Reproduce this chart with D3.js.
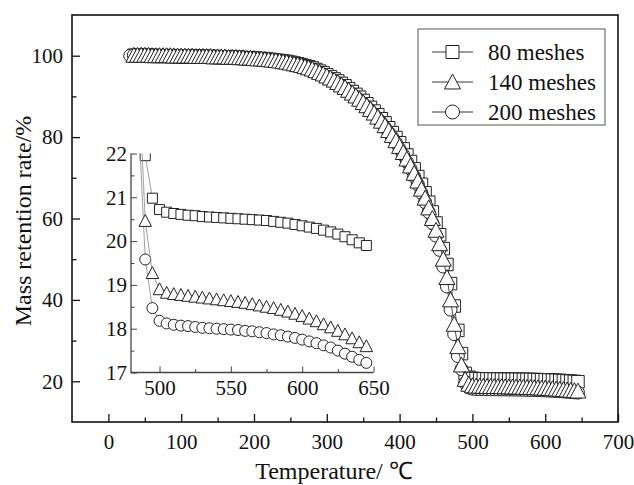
<!DOCTYPE html>
<html>
<head>
<meta charset="utf-8">
<script src="https://cdn.jsdelivr.net/npm/d3@7"></script>
<style>
  body { margin: 0; background: #fff; }
  svg { display: block; font-family: "Liberation Serif", "Times New Roman", serif; }
</style>
</head>
<body>
<svg id="chart" width="634" height="485"></svg>
<script>
// temperature (°C), one reading every 5 degrees
const temps = [
  30, 35, 40, 45, 50, 55, 60, 65, 70, 75,
  80, 85, 90, 95, 100, 105, 110, 115, 120, 125,
  130, 135, 140, 145, 150, 155, 160, 165, 170, 175,
  180, 185, 190, 195, 200, 205, 210, 215, 220, 225,
  230, 235, 240, 245, 250, 255, 260, 265, 270, 275,
  280, 285, 290, 295, 300, 305, 310, 315, 320, 325,
  330, 335, 340, 345, 350, 355, 360, 365, 370, 375,
  380, 385, 390, 395, 400, 405, 410, 415, 420, 425,
  430, 435, 440, 445, 450, 455, 460, 465, 470, 475,
  480, 485, 490, 495, 500, 505, 510, 515, 520, 525,
  530, 535, 540, 545, 550, 555, 560, 565, 570, 575,
  580, 585, 590, 595, 600, 605, 610, 615, 620, 625,
  630, 635, 640, 645
]

// mass retention rate (%)
const mesh80 = [
  null, 100.1, 100.1, 100.1, 100.1, 100.1, 100.1, 100.0, 100.0, 100.0,
  100.0, 100.0, 100.0, 99.9, 99.9, 99.9, 99.9, 99.9, 99.9, 99.8,
  99.8, 99.8, 99.8, 99.8, 99.7, 99.7, 99.7, 99.7, 99.6, 99.6,
  99.6, 99.5, 99.5, 99.4, 99.4, 99.3, 99.3, 99.2, 99.1, 99.0,
  98.9, 98.8, 98.7, 98.6, 98.4, 98.2, 98.0, 97.8, 97.5, 97.3,
  97.0, 96.6, 96.2, 95.8, 95.3, 94.8, 94.3, 93.8, 93.2, 92.6,
  91.9, 91.2, 90.5, 89.8, 89.0, 88.2, 87.3, 86.4, 85.5, 84.5,
  83.5, 82.3, 81.1, 79.9, 78.6, 77.1, 75.6, 74.0, 72.2, 70.3,
  68.4, 66.3, 64.0, 61.6, 58.9, 56.0, 52.6, 48.7, 44.0, 38.5,
  32.5, 26.8, 21.95, 20.98, 20.72, 20.66, 20.63, 20.61, 20.59, 20.58,
  20.56, 20.55, 20.54, 20.53, 20.52, 20.51, 20.50, 20.49, 20.48, 20.47,
  20.45, 20.43, 20.41, 20.38, 20.35, 20.32, 20.29, 20.25, 20.21, 20.16,
  20.10, 20.03, 19.96, 19.90
]

const mesh140 = [
  null, 100.1, 100.1, 100.1, 100.1, 100.1, 100.0, 100.0, 100.0, 100.0,
  100.0, 100.0, 99.9, 99.9, 99.9, 99.9, 99.9, 99.9, 99.8, 99.8,
  99.8, 99.8, 99.8, 99.7, 99.7, 99.7, 99.7, 99.6, 99.6, 99.6,
  99.5, 99.5, 99.4, 99.4, 99.3, 99.2, 99.2, 99.1, 99.0, 98.9,
  98.8, 98.7, 98.5, 98.4, 98.2, 98.0, 97.8, 97.6, 97.3, 97.0,
  96.7, 96.3, 95.9, 95.5, 95.0, 94.5, 94.0, 93.4, 92.8, 92.2,
  91.5, 90.8, 90.1, 89.3, 88.5, 87.7, 86.8, 85.9, 84.9, 83.9,
  82.8, 81.6, 80.4, 79.1, 77.7, 76.2, 74.6, 72.9, 71.1, 69.2,
  67.2, 65.0, 62.6, 60.0, 57.1, 53.8, 50.0, 45.5, 40.0, 34.0,
  28.5, 24.0, 20.46, 19.27, 18.90, 18.82, 18.79, 18.77, 18.75, 18.73,
  18.71, 18.69, 18.67, 18.65, 18.63, 18.61, 18.59, 18.56, 18.53, 18.50,
  18.47, 18.43, 18.39, 18.34, 18.29, 18.23, 18.17, 18.10, 18.03, 17.95,
  17.87, 17.78, 17.69, 17.60
]

const mesh200 = [
  100.0, 100.1, 100.1, 100.1, 100.1, 100.0, 100.0, 100.0, 100.0, 100.0,
  100.0, 99.9, 99.9, 99.9, 99.9, 99.9, 99.9, 99.8, 99.8, 99.8,
  99.8, 99.8, 99.7, 99.7, 99.7, 99.7, 99.6, 99.6, 99.6, 99.5,
  99.5, 99.4, 99.4, 99.3, 99.2, 99.2, 99.1, 99.0, 98.9, 98.8,
  98.7, 98.6, 98.4, 98.3, 98.1, 97.9, 97.7, 97.4, 97.2, 96.9,
  96.5, 96.1, 95.7, 95.3, 94.8, 94.3, 93.7, 93.2, 92.5, 91.9,
  91.2, 90.5, 89.8, 89.0, 88.2, 87.3, 86.4, 85.5, 84.5, 83.5,
  82.3, 81.1, 79.9, 78.6, 77.1, 75.6, 73.9, 72.2, 70.3, 68.4,
  66.3, 64.0, 61.6, 58.9, 55.8, 52.3, 48.2, 43.3, 37.6, 31.6,
  26.2, 23.0, 19.58, 18.47, 18.18, 18.12, 18.09, 18.07, 18.06, 18.04,
  18.02, 18.01, 18.00, 17.99, 17.98, 17.97, 17.95, 17.94, 17.92, 17.90,
  17.87, 17.85, 17.82, 17.79, 17.75, 17.71, 17.67, 17.62, 17.57, 17.50,
  17.43, 17.36, 17.29, 17.22
]

const seriesNames = ["80 meshes", "140 meshes", "200 meshes"]
const seriesShapes = ["square", "triangle", "circle"]

const xTicks = [0, 100, 200, 300, 400, 500, 600, 700]
const xMinor = [50, 150, 250, 350, 450, 550, 650]
const yTicks = [20, 40, 60, 80, 100]
const yMinor = [30, 50, 70, 90]
const insetXTicks = [500, 550, 600, 650]
const insetXMinor = [525, 575, 625]
const insetYTicks = [17, 18, 19, 20, 21, 22]
const insetYMinor = [17.5, 18.5, 19.5, 20.5, 21.5]

const W = 634, H = 485
const plot = { left: 72, right: 618, top: 15, bottom: 422 }
const inset = { left: 131, right: 373.5, top: 153.5, bottom: 372.5 }

const svg = d3.select("#chart")
svg.append("rect").attr("width", W).attr("height", H).attr("fill", "#fff")

const x = d3.scaleLinear().domain([-50, 700]).range([plot.left, plot.right])
const y = d3.scaleLinear().domain([10, 110]).range([plot.bottom, plot.top])
const xi = d3.scaleLinear().domain([480, 650]).range([inset.left, inset.right])
const yi = d3.scaleLinear().domain([17, 22]).range([inset.bottom, inset.top])

// build row objects per series
const series = seriesNames.map((name, k) => {
  let vals = [mesh80, mesh140, mesh200][k]
  return {
    name: name,
    shape: seriesShapes[k],
    points: temps.map((t, i) => ({ t: t, v: vals[i] })).filter(d => d.v != null)
  }
})

function markerPath(shape, s) {
  let h = s / 2
  if (shape == "square") return `M${-h},${-h}h${s}v${s}h${-s}Z`
  if (shape == "triangle") {
    let th = s * 0.87
    return `M0,${-th / 2 - 1}L${h},${th / 2}L${-h},${th / 2}Z`
  }
  return `M${h},0A${h},${h} 0 1,1 ${-h},0A${h},${h} 0 1,1 ${h},0Z`
}

const defs = svg.append("defs")
defs.append("clipPath").attr("id", "clipMain")
  .append("rect")
  .attr("x", plot.left).attr("y", plot.top)
  .attr("width", plot.right - plot.left).attr("height", plot.bottom - plot.top)
defs.append("clipPath").attr("id", "clipInset")
  .append("rect")
  .attr("x", inset.left).attr("y", inset.top)
  .attr("width", inset.right - inset.left + 8).attr("height", inset.bottom - inset.top)

// draw order: squares, circles, triangles on top
const drawOrder = [0, 2, 1]

function drawSeries(g, xs, ys, sizes, lineColour, lineWidth, filterFn) {
  drawOrder.forEach(k => {
    let s = series[k]
    let pts = s.points.filter(filterFn)
    let line = d3.line().x(d => xs(d.t)).y(d => ys(d.v))
    g.append("path")
      .datum(pts)
      .attr("d", line)
      .attr("fill", "none")
      .attr("stroke", lineColour)
      .attr("stroke-width", lineWidth)
    g.selectAll(null)
      .data(pts)
      .join("path")
      .attr("transform", d => `translate(${xs(d.t)},${ys(d.v)})`)
      .attr("d", markerPath(s.shape, sizes[s.shape]))
      .attr("fill", "#fff")
      .attr("stroke", "#222")
      .attr("stroke-width", 1)
  })
}

// main curves
const gMain = svg.append("g").attr("clip-path", "url(#clipMain)")
drawSeries(gMain, x, y, { square: 12.5, triangle: 16, circle: 13 }, "#222", 0.8, d => true)

// inset curves
const gInset = svg.append("g").attr("clip-path", "url(#clipInset)")
drawSeries(gInset, xi, yi, { square: 10, triangle: 12.5, circle: 11 }, "#888", 0.8, d => d.t >= 480)

// axes helpers: ticks point inward
function styleAxis(g, colour, width, fontSize) {
  g.select(".domain").remove()
  g.selectAll(".tick line").attr("stroke", colour).attr("stroke-width", width)
  g.selectAll(".tick text")
    .attr("fill", "#111")
    .style("font-size", `${fontSize}px`)
    .style("font-family", "'Liberation Serif', 'Times New Roman', serif")
}

// main x axis
let ax = svg.append("g").attr("transform", `translate(0,${plot.bottom})`)
  .call(d3.axisBottom(x).tickValues(xTicks).tickSize(-8).tickPadding(12).tickFormat(d3.format("d")))
styleAxis(ax, "#111", 1.3, 21)
ax = svg.append("g").attr("transform", `translate(0,${plot.bottom})`)
  .call(d3.axisBottom(x).tickValues(xMinor).tickSize(-4.5).tickFormat(""))
styleAxis(ax, "#111", 1.3, 21)

// main y axis
ax = svg.append("g").attr("transform", `translate(${plot.left},0)`)
  .call(d3.axisLeft(y).tickValues(yTicks).tickSize(-8).tickPadding(9).tickFormat(d3.format("d")))
styleAxis(ax, "#111", 1.3, 21)
ax = svg.append("g").attr("transform", `translate(${plot.left},0)`)
  .call(d3.axisLeft(y).tickValues(yMinor).tickSize(-4.5).tickFormat(""))
styleAxis(ax, "#111", 1.3, 21)

// frame
svg.append("rect")
  .attr("x", plot.left).attr("y", plot.top)
  .attr("width", plot.right - plot.left).attr("height", plot.bottom - plot.top)
  .attr("fill", "none").attr("stroke", "#111").attr("stroke-width", 1.6)

// inset axes
ax = svg.append("g").attr("transform", `translate(0,${inset.bottom})`)
  .call(d3.axisBottom(xi).tickValues(insetXTicks).tickSize(-6).tickPadding(8).tickFormat(d3.format("d")))
styleAxis(ax, "#444", 1, 21)
ax = svg.append("g").attr("transform", `translate(0,${inset.bottom})`)
  .call(d3.axisBottom(xi).tickValues(insetXMinor).tickSize(-3.5).tickFormat(""))
styleAxis(ax, "#444", 1, 21)
ax = svg.append("g").attr("transform", `translate(${inset.left},0)`)
  .call(d3.axisLeft(yi).tickValues(insetYTicks).tickSize(-6).tickPadding(4).tickFormat(d3.format("d")))
styleAxis(ax, "#444", 1, 21)
ax = svg.append("g").attr("transform", `translate(${inset.left},0)`)
  .call(d3.axisLeft(yi).tickValues(insetYMinor).tickSize(-3.5).tickFormat(""))
styleAxis(ax, "#444", 1, 21)
svg.append("path")
  .attr("d", `M${inset.left},${inset.top}V${inset.bottom}H${inset.right}`)
  .attr("fill", "none").attr("stroke", "#444").attr("stroke-width", 1.3)

// axis titles
svg.append("text")
  .attr("x", 334).attr("y", 479)
  .attr("text-anchor", "middle")
  .style("font-size", "24px")
  .attr("fill", "#111")
  .text("Temperature/ ℃")

svg.append("text")
  .attr("transform", "translate(31,221) rotate(-90)")
  .attr("text-anchor", "middle")
  .style("font-size", "24px")
  .attr("fill", "#111")
  .text("Mass retention rate/%")

// legend
const legend = svg.append("g").attr("transform", "translate(418,29)")
legend.append("rect")
  .attr("width", 187).attr("height", 96)
  .attr("fill", "#fff").attr("stroke", "#555").attr("stroke-width", 1)
const legendSizes = { square: 13, triangle: 16, circle: 14 }
series.forEach((s, i) => {
  let row = legend.append("g").attr("transform", `translate(0,${23 + i * 30})`)
  row.append("line")
    .attr("x1", 14).attr("x2", 55)
    .attr("stroke", "#222").attr("stroke-width", 0.9)
  row.append("path")
    .attr("transform", "translate(34.5,0)")
    .attr("d", markerPath(s.shape, legendSizes[s.shape]))
    .attr("fill", "#fff").attr("stroke", "#222").attr("stroke-width", 1)
  row.append("text")
    .attr("x", 70).attr("dy", "0.34em")
    .style("font-size", "23px")
    .attr("fill", "#111")
    .text(s.name)
})
</script>
</body>
</html>
